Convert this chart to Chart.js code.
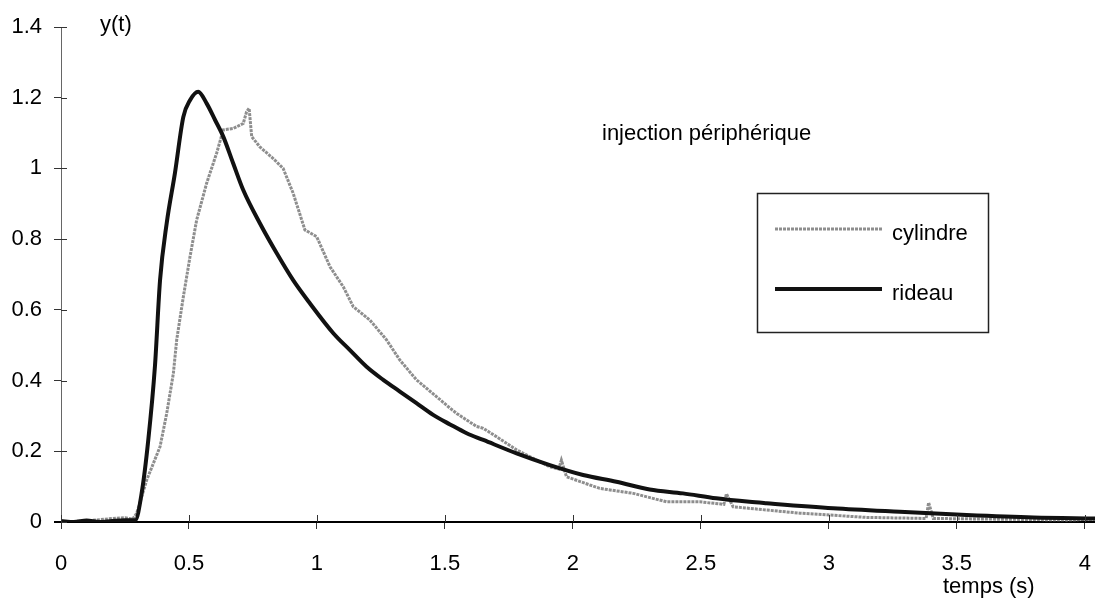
<!DOCTYPE html>
<html>
<head>
<meta charset="utf-8">
<script src="https://cdn.jsdelivr.net/npm/chart.js@4/dist/chart.umd.min.js"></script>
<style>
  html, body { margin: 0; padding: 0; background: #fff; }
  #wrap { width: 1095px; height: 605px; position: relative; }
</style>
</head>
<body>
<div id="wrap"><canvas id="c" width="1095" height="605"></canvas></div>
<script>
// values: time (s) and y(t)
const rideauT = [0, 0.05, 0.1, 0.15, 0.2, 0.25, 0.29, 0.315, 0.341, 0.367, 0.387, 0.413, 0.445, 0.478, 0.504, 0.536,
    0.569, 0.602, 0.634, 0.673, 0.712, 0.777, 0.843, 0.907, 0.973, 1.064, 1.129, 1.194, 1.259, 1.324, 1.389, 1.454,
    1.52, 1.585, 1.65, 1.78, 1.91, 2.04, 2.17, 2.30, 2.43, 2.56, 2.69, 2.757, 3.017, 3.277, 3.538, 3.8, 4.04];
const rideauY = [0.003, 0.0, 0.004, 0.0, 0.003, 0.005, 0.005, 0.081, 0.232, 0.44, 0.684, 0.845, 0.986, 1.146, 1.193, 1.217,
    1.184, 1.137, 1.09, 1.014, 0.939, 0.845, 0.76, 0.684, 0.618, 0.534, 0.486, 0.439, 0.402, 0.369, 0.336, 0.303,
    0.276, 0.251, 0.232, 0.194, 0.161, 0.133, 0.114, 0.092, 0.081, 0.067, 0.057, 0.053, 0.039, 0.029, 0.02, 0.013, 0.01];

const cylT = [0, 0.1, 0.2, 0.25, 0.28, 0.296, 0.335, 0.387, 0.413, 0.439, 0.452, 0.478, 0.504, 0.53, 0.569, 0.608, 0.634,
    0.673, 0.712, 0.725, 0.735, 0.745, 0.777, 0.829, 0.868, 0.907, 0.953, 0.999, 1.051, 1.103, 1.142, 1.207, 1.272,
    1.324, 1.389, 1.468, 1.52, 1.546, 1.624, 1.65, 1.702, 1.78, 1.91, 1.945, 1.955, 1.975, 2.105, 2.236, 2.366, 2.496,
    2.59, 2.6, 2.626, 2.887, 3.147, 3.38, 3.39, 3.408, 3.668, 3.93, 4.04];
const cylY = [0, 0.003, 0.01, 0.012, 0.008, 0.025, 0.119, 0.213, 0.307, 0.42, 0.515, 0.637, 0.75, 0.854, 0.958, 1.043, 1.109,
    1.113, 1.127, 1.16, 1.17, 1.09, 1.061, 1.028, 1.0, 0.93, 0.826, 0.807, 0.722, 0.665, 0.609, 0.571, 0.515,
    0.458, 0.402, 0.354, 0.322, 0.307, 0.27, 0.265, 0.241, 0.204, 0.156, 0.15, 0.175, 0.128, 0.095, 0.081, 0.057, 0.057,
    0.05, 0.08, 0.043, 0.025, 0.013, 0.01, 0.055, 0.01, 0.008, 0.006, 0.008];

const xTicks = [0, 0.5, 1, 1.5, 2, 2.5, 3, 3.5, 4];
const yTicks = [0, 0.2, 0.4, 0.6, 0.8, 1, 1.2, 1.4];
const seriesLabels = ['cylindre', 'rideau'];

const FAMILY = '"Liberation Sans", Arial, sans-serif';
const FONT = '22px ' + FAMILY;

const toPoints = (xs, ys) => xs.map((x, i) => ({ x: x, y: ys[i] }));

// texts, inner tick marks and the framed legend
const decorations = {
    id: 'decorations',
    afterDraw(chart) {
        const ctx = chart.ctx;
        const xs = chart.scales.x, ys = chart.scales.y;
        const left = chart.chartArea.left, bottom = chart.chartArea.bottom;
        ctx.save();

        // tick marks inside the plot
        ctx.strokeStyle = '#333';
        ctx.lineWidth = 1;
        xTicks.forEach(v => {
            const px = Math.round(xs.getPixelForValue(v)) + 0.5;
            ctx.beginPath(); ctx.moveTo(px, bottom); ctx.lineTo(px, bottom - 7); ctx.stroke();
        });
        yTicks.forEach(v => {
            const py = Math.round(ys.getPixelForValue(v)) + 0.5;
            ctx.beginPath(); ctx.moveTo(left, py); ctx.lineTo(left + 6, py); ctx.stroke();
        });
        // x axis runs a little past the y axis
        ctx.strokeStyle = '#000';
        ctx.lineWidth = 2;
        ctx.beginPath(); ctx.moveTo(left - 7, bottom); ctx.lineTo(left, bottom); ctx.stroke();

        ctx.fillStyle = '#000';
        ctx.font = FONT;
        ctx.textBaseline = 'middle';
        ctx.textAlign = 'left';
        ctx.fillText('y(t)', 100, 25);
        ctx.fillText('injection périphérique', 602, 134);
        ctx.fillText('temps (s)', 943, 587);

        // legend
        const bx = 757, by = 193, bw = 231, bh = 139;
        ctx.strokeStyle = '#222';
        ctx.lineWidth = 1.5;
        ctx.strokeRect(bx + 0.5, by + 0.5, bw, bh);
        const rows = [229, 289];
        chart.data.datasets.forEach((ds, i) => {
            const y = rows[i];
            ctx.strokeStyle = ds.borderColor;
            ctx.lineWidth = ds.borderWidth;
            ctx.setLineDash(ds.borderDash || []);
            ctx.beginPath(); ctx.moveTo(775, y); ctx.lineTo(882, y); ctx.stroke();
            ctx.setLineDash([]);
            ctx.fillStyle = '#000';
            ctx.fillText(ds.label, 892, y + 5);
        });
        ctx.restore();
    }
};

new Chart(document.getElementById('c'), {
    type: 'line',
    data: {
        datasets: [{
            label: seriesLabels[0],
            data: toPoints(cylT, cylY),
            borderColor: '#8e8e8e',
            borderWidth: 3,
            borderDash: [3, 1],
            pointRadius: 0,
            tension: 0,
            order: 1
        }, {
            label: seriesLabels[1],
            data: toPoints(rideauT, rideauY),
            borderColor: '#111111',
            borderWidth: 4,
            pointRadius: 0,
            cubicInterpolationMode: 'monotone',
            order: 0
        }]
    },
    options: {
        responsive: false,
        animation: false,
        layout: { padding: { top: 27, right: 0, left: 0, bottom: 0 } },
        plugins: {
            legend: { display: false },
            tooltip: { enabled: false }
        },
        scales: {
            x: {
                type: 'linear',
                min: 0,
                max: 4.04,
                afterFit: s => { s.height = 83; s.paddingRight = 0; s.paddingLeft = 0; },
                afterBuildTicks: s => { s.ticks = xTicks.map(v => ({ value: v })); },
                ticks: {
                    includeBounds: false,
                    maxRotation: 0,
                    color: '#000',
                    font: { family: FAMILY, size: 22 },
                    padding: 22,
                    callback: v => String(v)
                },
                grid: { drawOnChartArea: false, drawTicks: true, tickLength: 7, color: '#333' },
                border: { color: '#000', width: 2 }
            },
            y: {
                type: 'linear',
                min: 0,
                max: 1.4,
                afterFit: s => { s.width = 61; },
                afterBuildTicks: s => { s.ticks = yTicks.map(v => ({ value: v })); },
                ticks: {
                    includeBounds: false,
                    color: '#000',
                    font: { family: FAMILY, size: 22 },
                    padding: 12,
                    callback: v => String(v)
                },
                grid: { drawOnChartArea: false, drawTicks: true, tickLength: 7, color: '#333' },
                border: { color: '#666', width: 1, dash: [2, 2] }
            }
        }
    },
    plugins: [decorations]
});
</script>
</body>
</html>
